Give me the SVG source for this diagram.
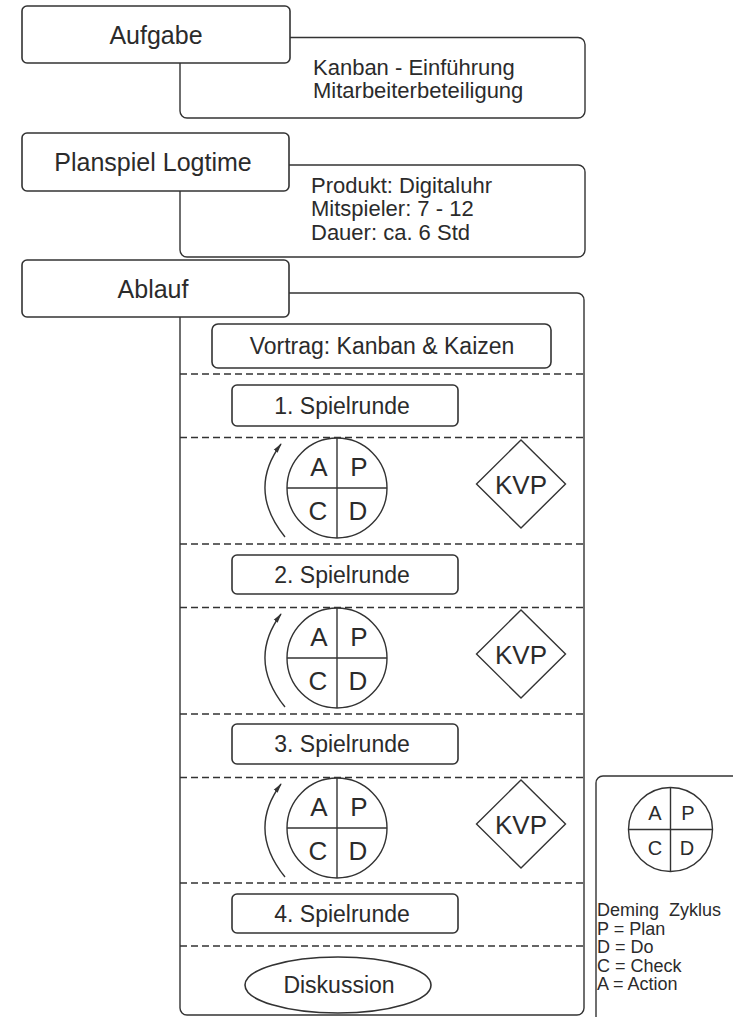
<svg xmlns="http://www.w3.org/2000/svg" width="733" height="1017" viewBox="0 0 733 1017">
<style>
  .box{fill:#fff;stroke:#333;stroke-width:1.6}
  .frame{fill:#fff;stroke:#333;stroke-width:1.4}
  .ln{fill:none;stroke:#333;stroke-width:1.4}
  .dash{fill:none;stroke:#333;stroke-width:1.4;stroke-dasharray:7 4}
  text{font-family:"Liberation Sans",Arial,Helvetica,sans-serif;fill:#2b2b2b}
  .h{font-size:25px;text-anchor:middle}
  .t{font-size:22px}
  .c{font-size:23px;text-anchor:middle}
  .l{font-size:26px;text-anchor:middle}
  .k{font-size:26px;text-anchor:middle}
  .s{font-size:20px;text-anchor:middle}
  .g{font-size:18px}
</style>
<defs>
  <marker id="ah" viewBox="0 0 10 6" refX="9" refY="3" markerWidth="10" markerHeight="6" markerUnits="userSpaceOnUse" orient="auto">
    <path d="M0,0.6 L10,3 L0,5.4 Z" fill="#333"/>
  </marker>
  <g id="pdca">
    <circle cx="0" cy="0" r="50" class="ln"/>
    <line x1="0" y1="-50" x2="0" y2="50" class="ln"/>
    <line x1="-50" y1="0" x2="50" y2="0" class="ln"/>
  </g>
</defs>
<rect width="733" height="1017" fill="#fff"/>

<g id="aufgabe-details">
  <rect x="180" y="37.5" width="405" height="80.5" rx="7" class="frame"/>
  <text class="t" x="313" y="74.5">Kanban - Einführung</text>
  <text class="t" x="313" y="97.5">Mitarbeiterbeteiligung</text>
</g>
<g id="planspiel-details">
  <rect x="180" y="165" width="405" height="92" rx="7" class="frame"/>
  <text class="t" x="311" y="192.5">Produkt: Digitaluhr</text>
  <text class="t" x="311" y="216">Mitspieler: 7 - 12</text>
  <text class="t" x="311" y="239.5">Dauer: ca. 6 Std</text>
</g>
<g id="ablauf-frame">
  <rect x="180" y="293" width="404" height="722" rx="7" class="frame"/>
</g>

<g id="aufgabe">
  <rect x="22" y="6" width="268" height="57" rx="5" class="box"/>
  <text class="h" x="156" y="43.5">Aufgabe</text>
</g>
<g id="planspiel">
  <rect x="22" y="133" width="267" height="58" rx="5" class="box"/>
  <text class="h" x="153" y="171">Planspiel Logtime</text>
</g>
<g id="ablauf">
  <rect x="22" y="260" width="267" height="57" rx="5" class="box"/>
  <text class="h" x="153" y="298">Ablauf</text>
</g>

<g id="separators">
  <line x1="180" y1="374" x2="584" y2="374" class="dash"/>
  <line x1="180" y1="437.5" x2="584" y2="437.5" class="dash"/>
  <line x1="180" y1="544" x2="584" y2="544" class="dash"/>
  <line x1="180" y1="607.5" x2="584" y2="607.5" class="dash"/>
  <line x1="180" y1="714" x2="584" y2="714" class="dash"/>
  <line x1="180" y1="777.5" x2="584" y2="777.5" class="dash"/>
  <line x1="180" y1="883" x2="584" y2="883" class="dash"/>
  <line x1="180" y1="946" x2="584" y2="946" class="dash"/>
</g>

<g id="vortrag">
  <rect x="212" y="324" width="339" height="44" rx="6" class="box"/>
  <text class="c" x="382" y="354">Vortrag: Kanban &amp; Kaizen</text>
</g>
<g id="runde1">
  <rect x="232" y="385" width="226" height="41" rx="5" class="box"/>
  <text class="c" x="342" y="413.5">1. Spielrunde</text>
</g>
<g id="pdca1">
  <use href="#pdca" x="337" y="488"/>
  <text class="l" x="319" y="476">A</text><text class="l" x="359" y="476">P</text>
  <text class="l" x="318" y="520">C</text><text class="l" x="358" y="520">D</text>
</g>
<g id="kvp1">
  <path d="M521,440 L565.5,484 L521,528 L476.5,484 Z" class="ln"/>
  <text class="k" x="521" y="494">KVP</text>
</g>
<g id="runde2">
  <rect x="232" y="555" width="226" height="39" rx="5" class="box"/>
  <text class="c" x="342" y="582.5">2. Spielrunde</text>
</g>
<g id="pdca2">
  <use href="#pdca" x="337" y="658"/>
  <text class="l" x="319" y="646">A</text><text class="l" x="359" y="646">P</text>
  <text class="l" x="318" y="690">C</text><text class="l" x="358" y="690">D</text>
</g>
<g id="kvp2">
  <path d="M521,610 L565.5,654 L521,698 L476.5,654 Z" class="ln"/>
  <text class="k" x="521" y="664">KVP</text>
</g>
<g id="runde3">
  <rect x="232" y="724" width="226" height="40" rx="5" class="box"/>
  <text class="c" x="342" y="752">3. Spielrunde</text>
</g>
<g id="pdca3">
  <use href="#pdca" x="337" y="828"/>
  <text class="l" x="319" y="816">A</text><text class="l" x="359" y="816">P</text>
  <text class="l" x="318" y="860">C</text><text class="l" x="358" y="860">D</text>
</g>
<g id="kvp3">
  <path d="M521,780 L565.5,824 L521,868 L476.5,824 Z" class="ln"/>
  <text class="k" x="521" y="834">KVP</text>
</g>
<g id="runde4">
  <rect x="232" y="894" width="226" height="39" rx="5" class="box"/>
  <text class="c" x="342" y="921.5">4. Spielrunde</text>
</g>
<g id="diskussion">
  <ellipse cx="338" cy="985" rx="93" ry="28" class="box"/>
  <text class="c" x="339" y="993">Diskussion</text>
</g>

<g id="connectors">
  <path d="M285,537 Q247,490 281,444" class="ln" marker-end="url(#ah)"/>
  <path d="M285,707 Q247,660 281,614" class="ln" marker-end="url(#ah)"/>
  <path d="M285,877 Q247,830 281,784" class="ln" marker-end="url(#ah)"/>
</g>

<g id="legende">
  <rect x="596" y="776" width="160" height="260" rx="7" class="frame"/>
  <circle cx="670.5" cy="829.5" r="42" class="ln"/>
  <line x1="670.5" y1="787.5" x2="670.5" y2="871.5" class="ln"/>
  <line x1="628.5" y1="829.5" x2="712.5" y2="829.5" class="ln"/>
  <text class="s" x="655" y="820">A</text><text class="s" x="688" y="820">P</text>
  <text class="s" x="655" y="855">C</text><text class="s" x="687" y="855">D</text>
  <text class="g" x="597" y="916" xml:space="preserve">Deming  Zyklus</text>
  <text class="g" x="597" y="934.5">P = Plan</text>
  <text class="g" x="597" y="953">D = Do</text>
  <text class="g" x="597" y="971.5">C = Check</text>
  <text class="g" x="597" y="990">A = Action</text>
</g>
</svg>
